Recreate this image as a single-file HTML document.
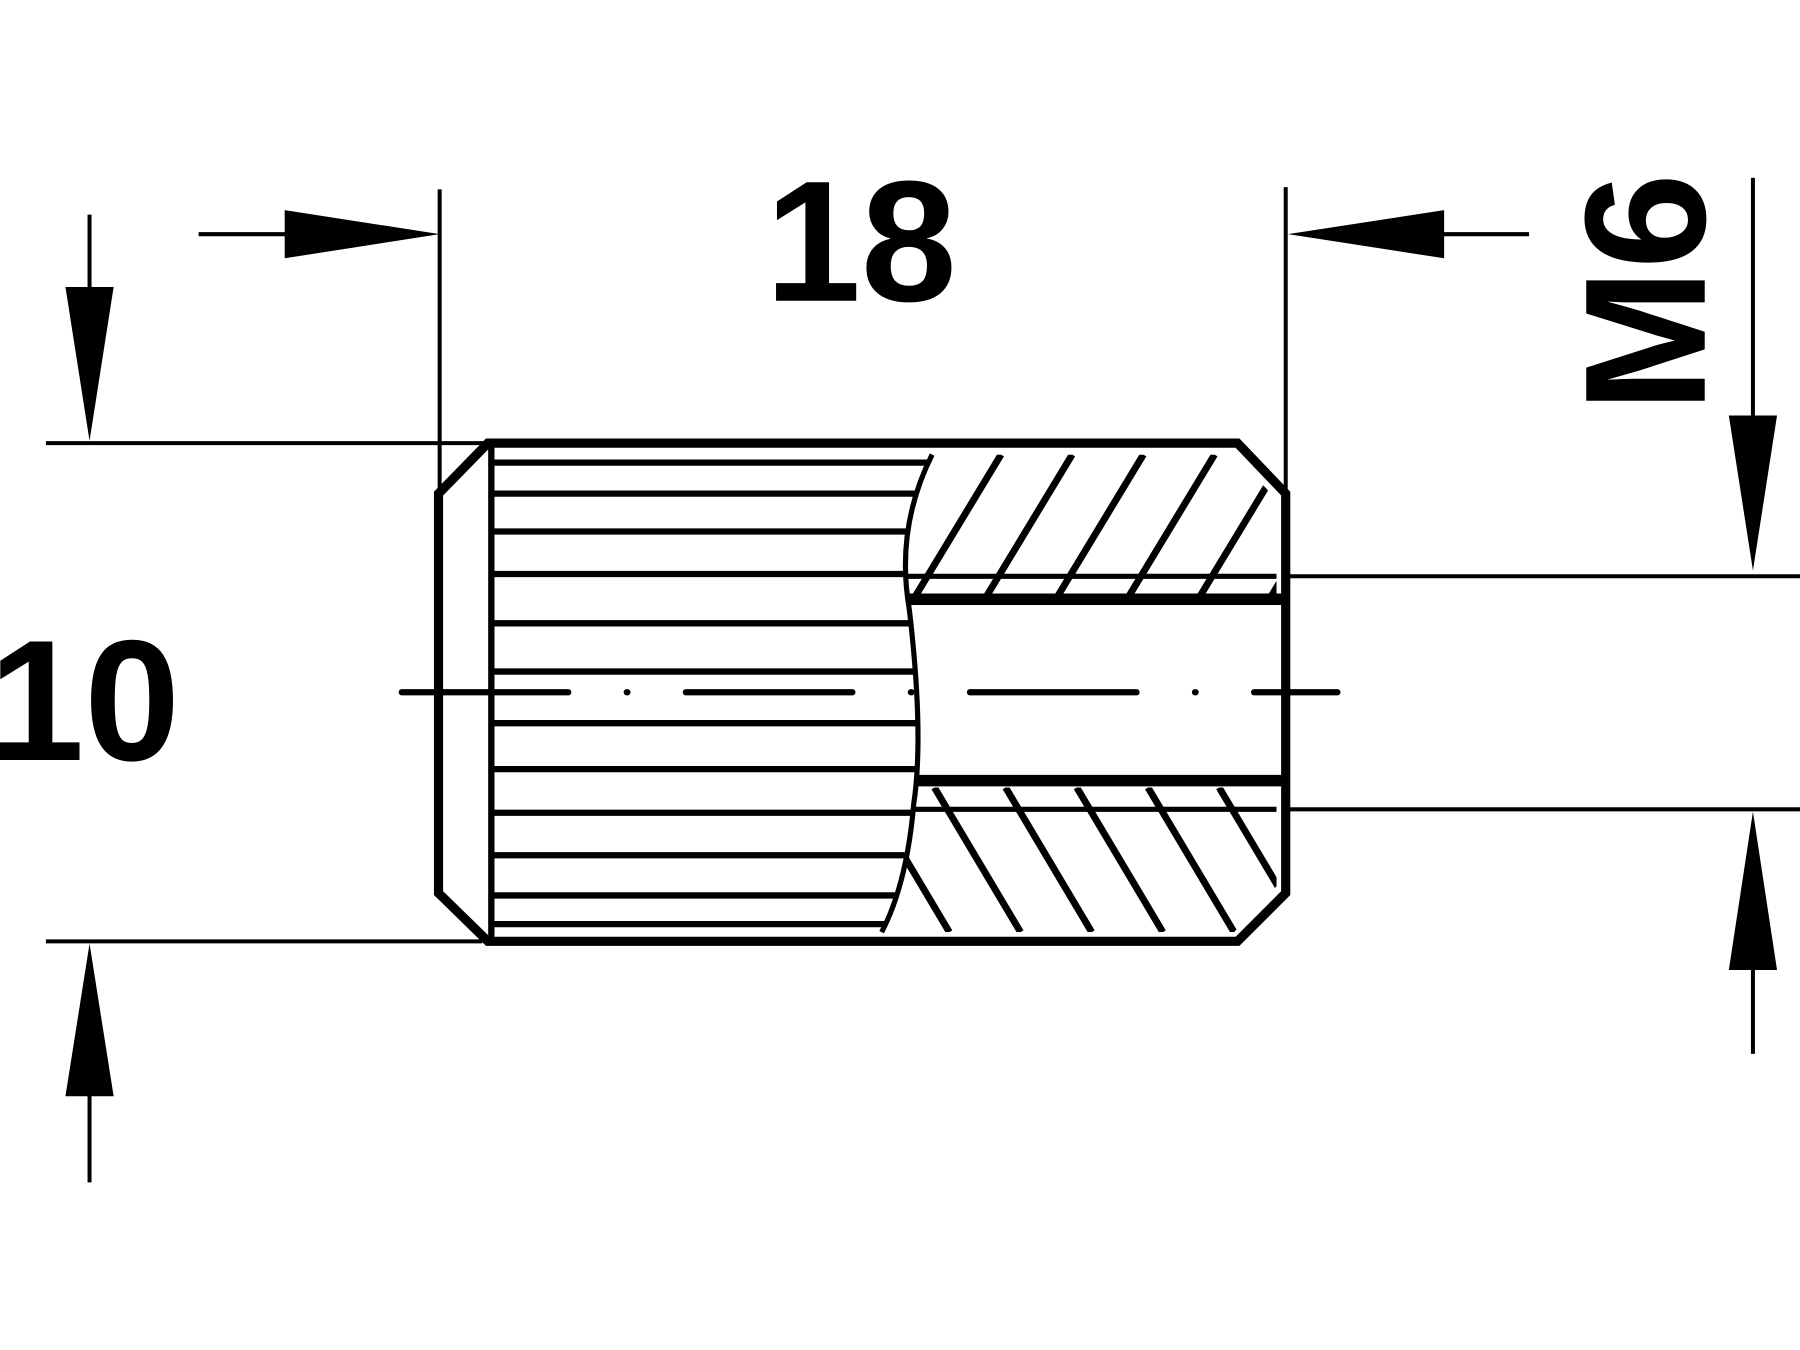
<!DOCTYPE html>
<html><head><meta charset="utf-8"><style>html,body{margin:0;padding:0;background:#fff}svg{display:block}</style></head>
<body>
<svg width="1800" height="1350" viewBox="0 0 1568 1176" preserveAspectRatio="none" xmlns="http://www.w3.org/2000/svg">
<defs>
<clipPath id="ht"><path d="M812,396 L1075,396 L1112,435 L1112,520 L792,520 Q782,460 812,396 Z"/></clipPath>
<clipPath id="hb"><path d="M798,686 L1112,686 L1112,772 L1075,812 L768,812 Q792,760 798,686 Z"/></clipPath>
</defs>
<g stroke="#000" fill="none">
<g stroke-width="3.5">
<line x1="383" y1="165" x2="383" y2="428"/>
<line x1="1120" y1="163" x2="1120" y2="428"/>
<line x1="40" y1="386" x2="425" y2="386"/>
<line x1="40" y1="820" x2="420" y2="820"/>
<line x1="1120" y1="502" x2="1568" y2="502"/>
<line x1="1120" y1="705" x2="1568" y2="705"/>
<line x1="173" y1="204" x2="300" y2="204"/>
<line x1="1200" y1="204" x2="1332" y2="204"/>
<line x1="78" y1="187" x2="78" y2="300"/>
<line x1="78" y1="900" x2="78" y2="1030"/>
<line x1="1527" y1="155" x2="1527" y2="400"/>
<line x1="1527" y1="800" x2="1527" y2="918"/>
</g>
<g stroke-width="5.5">
<line x1="430" y1="403" x2="810" y2="403"/>
<line x1="430" y1="430" x2="800" y2="430"/>
<line x1="430" y1="463" x2="790" y2="463"/>
<line x1="430" y1="500" x2="787" y2="500"/>
<line x1="430" y1="543" x2="793" y2="543"/>
<line x1="430" y1="585" x2="796" y2="585"/>
<line x1="430" y1="630" x2="798" y2="630"/>
<line x1="430" y1="670" x2="800" y2="670"/>
<line x1="430" y1="708" x2="797" y2="708"/>
<line x1="430" y1="745" x2="788" y2="745"/>
<line x1="430" y1="780" x2="780" y2="780"/>
<line x1="430" y1="805" x2="772" y2="805"/>
</g>
<path d="M812,396 Q780,460 792,530 Q805,640 796,700 Q790,770 768,812" stroke-width="4.5"/>
<g stroke-width="6" clip-path="url(#ht)">
<line x1="735" y1="520" x2="810" y2="396"/>
<line x1="797" y1="520" x2="872" y2="396"/>
<line x1="859" y1="520" x2="934" y2="396"/>
<line x1="921" y1="520" x2="996" y2="396"/>
<line x1="983" y1="520" x2="1058" y2="396"/>
<line x1="1045" y1="520" x2="1120" y2="396"/>
<line x1="1107" y1="520" x2="1182" y2="396"/>
<line x1="790" y1="502" x2="1120" y2="502" stroke-width="4.5"/>
</g>
<g stroke-width="6" clip-path="url(#hb)">
<line x1="690" y1="686" x2="765" y2="812"/>
<line x1="752" y1="686" x2="827" y2="812"/>
<line x1="814" y1="686" x2="889" y2="812"/>
<line x1="876" y1="686" x2="951" y2="812"/>
<line x1="938" y1="686" x2="1013" y2="812"/>
<line x1="1000" y1="686" x2="1075" y2="812"/>
<line x1="1062" y1="686" x2="1137" y2="812"/>
<line x1="1124" y1="686" x2="1199" y2="812"/>
<line x1="790" y1="705" x2="1120" y2="705" stroke-width="4.5"/>
</g>
<line x1="792" y1="522" x2="1120" y2="522" stroke-width="10"/>
<line x1="800" y1="680" x2="1120" y2="680" stroke-width="10"/>
<path d="M425,386 L1078,386 L1120,430 L1120,778 L1078,820 L425,820 L382,778 L382,430 Z" stroke-width="8" stroke-linejoin="miter"/>
<line x1="428" y1="386" x2="428" y2="820" stroke-width="5.5"/>
<line x1="350" y1="603" x2="1165" y2="603" stroke-width="5.5" stroke-linecap="round" stroke-dasharray="145,51,0.5,51"/>
</g>
<g fill="#000">
<polygon points="383,204 248,183 248,225"/>
<polygon points="1122,204 1258,183 1258,225"/>
<polygon points="78,384 57,250 99,250"/>
<polygon points="78,822 57,955 99,955"/>
<polygon points="1527,497 1506,362 1548,362"/>
<polygon points="1527,707 1506,845 1548,845"/>
</g>
<g font-family="Liberation Sans, sans-serif" font-weight="bold" font-size="150" fill="#000">
<text x="750" y="262" text-anchor="middle">18</text>
<text x="-10" y="662">10</text>
<text transform="translate(1485,255) rotate(-90)" text-anchor="middle">M6</text>
</g>
</svg>
</body></html>
